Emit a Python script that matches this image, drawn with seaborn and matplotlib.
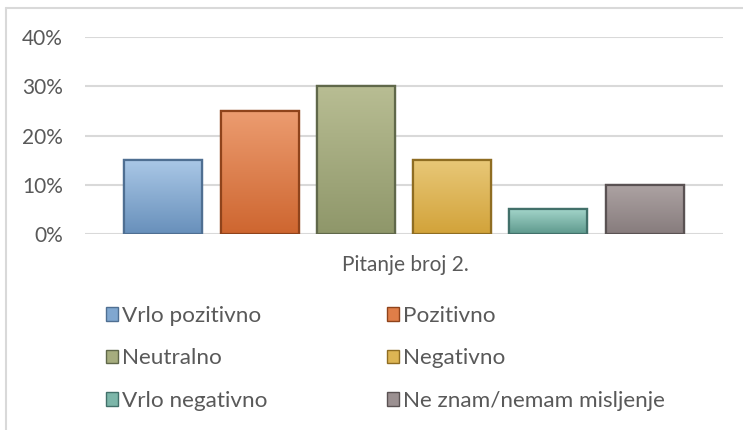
import matplotlib
matplotlib.use("Agg")
import matplotlib.pyplot as plt
import seaborn as sns
import pandas as pd
import numpy as np
from matplotlib.patches import Rectangle
from matplotlib.lines import Line2D
from matplotlib.colors import to_rgb

categories = ["Vrlo pozitivno", "Pozitivno", "Neutralno", "Negativno",
              "Vrlo negativno", "Ne znam/nemam misljenje"]
values = [15, 25, 30, 15, 5, 10]
top_colors = ["#A9C7E6", "#EC9C70", "#B8BD93", "#E8C777", "#A2D4C9", "#ADA3A3"]
colors = ["#80A7D0", "#E07E48", "#A6AD7E", "#DDB553", "#7CB6A9", "#9B9091"]
bottom_colors = ["#6890BB", "#CE6630", "#8F976A", "#D2A33A", "#5E998D", "#877C7D"]
edge_colors = ["#4F6F92", "#8F431B", "#60684A", "#8F6D22", "#42706A", "#5A5253"]
yticks = [0, 10, 20, 30, 40]
ytick_labels = ["0%", "10%", "20%", "30%", "40%"]
xlabel = "Pitanje broj 2."

sns.set_theme(style="white")
plt.rcParams["font.family"] = ["Lato", "DejaVu Sans"]
text_color = "#595959"

W, H = 743, 430
fig = plt.figure(figsize=(W / 100, H / 100), dpi=100)
fig.patch.set_facecolor("white")
ax = fig.add_axes([85 / W, 1 - 234 / H, (723 - 85) / W, (234 - 37) / H])

df = pd.DataFrame({"cat": categories, "val": values})
sns.barplot(data=df, x="cat", y="val", hue="cat", palette=colors, saturation=1,
            width=0.81, legend=False, ax=ax, zorder=3)

ax.set_xlim(-0.815, 5.815)
ax.set_ylim(0, 40)

# gradient shading clipped to each bar
for p, tc, bc, ec in zip(ax.patches, top_colors, bottom_colors, edge_colors):
    p.set_edgecolor(ec)
    p.set_linewidth(1.6)
    x0, y0 = p.get_x(), p.get_y()
    w, h = p.get_width(), p.get_height()
    t = np.linspace(0, 1, 64)[:, None]
    grad = (1 - t) * np.array(to_rgb(tc)) + t * np.array(to_rgb(bc))
    img = np.repeat(grad[:, None, :], 2, axis=1)
    im = ax.imshow(img, extent=[x0, x0 + w, y0, y0 + h], origin="upper",
                   aspect="auto", zorder=3.5, interpolation="bilinear")
    im.set_clip_path(p)
    ax.add_patch(Rectangle((x0, y0), w, h, fill=False, edgecolor=ec,
                           linewidth=1.6, zorder=4))

ax.set_xlim(-0.815, 5.815)
ax.set_ylim(0, 40)
ax.set_yticks(yticks)
ax.set_yticklabels(ytick_labels, fontsize=15, color=text_color)
ax.tick_params(axis="y", length=0, pad=16)
ax.set_xticks([])
ax.set_xlabel("")
ax.set_ylabel("")
for s in ax.spines.values():
    s.set_visible(False)
ax.yaxis.grid(True, color="#D9D9D9", linewidth=1.5, zorder=0)
ax.set_axisbelow(True)
ax.set_facecolor("white")

fig.text(405 / W, 1 - 265 / H, xlabel, ha="center", va="center",
         fontsize=15, color=text_color)

# chart border (top and left visible)
fig.add_artist(Line2D([6 / W, 1.0], [1 - 8 / H, 1 - 8 / H], transform=fig.transFigure,
                      color="#D9D9D9", linewidth=1.5))
fig.add_artist(Line2D([6 / W, 6 / W], [0, 1 - 8 / H], transform=fig.transFigure,
                      color="#D9D9D9", linewidth=1.5))

# legend, two columns, row-major order
handles = [Rectangle((0, 0), 1, 1, facecolor=c, edgecolor=e, linewidth=1.0)
           for c, e in zip(colors, edge_colors)]
for col, x0 in enumerate([106, 387]):
    idx = [col, col + 2, col + 4]
    leg = fig.legend([handles[i] for i in idx], [categories[i] for i in idx],
                     loc="upper left", bbox_to_anchor=(x0 / W, 1 - 306 / H),
                     frameon=False, fontsize=16.2, handlelength=0.55, handleheight=0.55,
                     handletextpad=0.15, labelspacing=1.0, borderpad=0, borderaxespad=0)
    for t in leg.get_texts():
        t.set_color(text_color)

fig.savefig("out.png", dpi=100, facecolor="white")
